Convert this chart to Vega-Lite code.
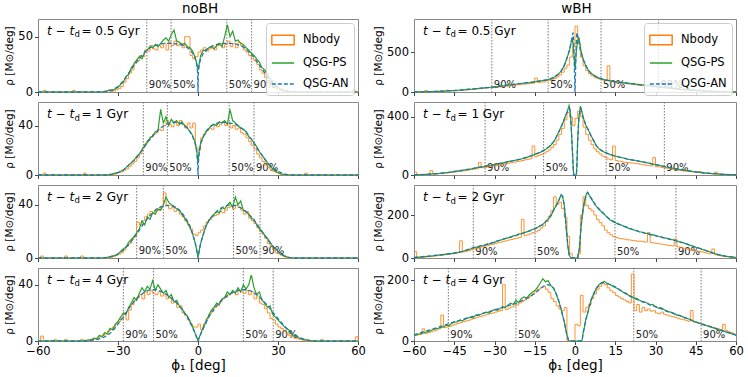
{
"$schema": "https://vega.github.io/schema/vega-lite/v6.json",
"padding": {"left": 4, "right": 2, "top": 1, "bottom": 1},
"datasets": {
"a1q": [{"x":-19.2,"lab":"90%"},{"x":-10.1,"lab":"50%"},{"x":10.8,"lab":"50%"},{"x":20.1,"lab":"90%"}],
"a2q": [{"x":-20.5,"lab":"90%"},{"x":-11.5,"lab":"50%"},{"x":11.7,"lab":"50%"},{"x":21,"lab":"90%"}],
"a3q": [{"x":-23,"lab":"90%"},{"x":-13,"lab":"50%"},{"x":13.3,"lab":"50%"},{"x":23.3,"lab":"90%"}],
"a4q": [{"x":-28,"lab":"90%"},{"x":-16.7,"lab":"50%"},{"x":17,"lab":"50%"},{"x":28.2,"lab":"90%"}],
"b1q": [{"x":-31,"lab":"90%"},{"x":-10,"lab":"50%"},{"x":9.7,"lab":"50%"},{"x":31.1,"lab":"90%"}],
"b2q": [{"x":-33.5,"lab":"90%"},{"x":-11.7,"lab":"50%"},{"x":11.6,"lab":"50%"},{"x":33.3,"lab":"90%"}],
"b3q": [{"x":-37.9,"lab":"90%"},{"x":-14.9,"lab":"50%"},{"x":14.9,"lab":"50%"},{"x":37.6,"lab":"90%"}],
"b4q": [{"x":-47.2,"lab":"90%"},{"x":-22,"lab":"50%"},{"x":21.9,"lab":"50%"},{"x":47,"lab":"90%"}],
"a1n": [{"x":-60,"y":0},{"x":-58,"y":1.5},{"x":-57,"y":0},{"x":-47,"y":1.5},{"x":-46,"y":0},{"x":-34,"y":1.5},{"x":-33,"y":0.5},{"x":-32,"y":1},{"x":-31,"y":2},{"x":-30,"y":3},{"x":-29,"y":5},{"x":-28,"y":9},{"x":-27,"y":12},{"x":-26,"y":17},{"x":-25,"y":20},{"x":-24,"y":27},{"x":-23,"y":28},{"x":-22,"y":33},{"x":-21,"y":32},{"x":-20,"y":38},{"x":-19,"y":37},{"x":-18,"y":42},{"x":-17,"y":39},{"x":-16,"y":38},{"x":-15,"y":42},{"x":-14,"y":40},{"x":-13,"y":44},{"x":-12,"y":38},{"x":-11,"y":45},{"x":-10,"y":42},{"x":-9,"y":46},{"x":-8,"y":42},{"x":-7,"y":44},{"x":-6,"y":40},{"x":-5,"y":50},{"x":-4,"y":50},{"x":-3,"y":33},{"x":-2,"y":30},{"x":-1,"y":32},{"x":0,"y":36},{"x":1,"y":38},{"x":2,"y":40},{"x":3,"y":37},{"x":4,"y":39},{"x":5,"y":41},{"x":6,"y":38},{"x":7,"y":42},{"x":8,"y":44},{"x":9,"y":40},{"x":10,"y":43},{"x":11,"y":46},{"x":12,"y":41},{"x":13,"y":44},{"x":14,"y":40},{"x":15,"y":45},{"x":16,"y":42},{"x":17,"y":38},{"x":18,"y":36},{"x":19,"y":33},{"x":20,"y":30},{"x":21,"y":28},{"x":22,"y":25},{"x":23,"y":20},{"x":24,"y":17},{"x":25,"y":13},{"x":26,"y":10},{"x":27,"y":7},{"x":28,"y":5},{"x":29,"y":3},{"x":30,"y":2},{"x":31,"y":1},{"x":32,"y":0.5},{"x":33,"y":0},{"x":58,"y":1.5},{"x":59,"y":0},{"x":60,"y":0}],
"a1p": [{"x":-60,"y":0},{"x":-36,"y":0},{"x":-35,"y":0.5},{"x":-34,"y":1},{"x":-33,"y":2},{"x":-32,"y":1.5},{"x":-31,"y":3},{"x":-30,"y":4},{"x":-29,"y":7},{"x":-28,"y":9},{"x":-27,"y":14},{"x":-26,"y":16},{"x":-25,"y":22},{"x":-24,"y":25},{"x":-23,"y":29},{"x":-22,"y":32},{"x":-21,"y":30},{"x":-20,"y":36},{"x":-19,"y":38},{"x":-18,"y":41},{"x":-17,"y":40},{"x":-16,"y":43},{"x":-15,"y":41},{"x":-14,"y":44},{"x":-13,"y":47},{"x":-12,"y":49},{"x":-11,"y":46},{"x":-10,"y":52},{"x":-9,"y":56},{"x":-8,"y":46},{"x":-7,"y":45},{"x":-6,"y":43},{"x":-5,"y":44},{"x":-4,"y":41},{"x":-3,"y":40},{"x":-2,"y":37},{"x":-1,"y":31},{"x":-0.5,"y":26},{"x":0,"y":20},{"x":0.5,"y":26},{"x":1,"y":33},{"x":2,"y":38},{"x":3,"y":37},{"x":4,"y":40},{"x":5,"y":41},{"x":6,"y":39},{"x":7,"y":42},{"x":8,"y":44},{"x":9,"y":41},{"x":10,"y":50},{"x":11,"y":61},{"x":12,"y":50},{"x":13,"y":55},{"x":14,"y":46},{"x":15,"y":47},{"x":16,"y":44},{"x":17,"y":43},{"x":18,"y":40},{"x":19,"y":38},{"x":20,"y":35},{"x":21,"y":33},{"x":22,"y":30},{"x":23,"y":27},{"x":24,"y":22},{"x":25,"y":20},{"x":26,"y":16},{"x":27,"y":12},{"x":28,"y":9},{"x":29,"y":6},{"x":30,"y":4},{"x":31,"y":2.5},{"x":32,"y":1.5},{"x":33,"y":1},{"x":34,"y":0.5},{"x":36,"y":0},{"x":60,"y":0}],
"a1a": [{"x":-60,"y":0},{"x":-36,"y":0},{"x":-34,"y":0.5},{"x":-32,"y":2},{"x":-30,"y":5},{"x":-28,"y":10},{"x":-26,"y":17},{"x":-24,"y":24},{"x":-22,"y":30},{"x":-20,"y":36},{"x":-18,"y":40},{"x":-16,"y":42},{"x":-14,"y":43.5},{"x":-12,"y":44},{"x":-10,"y":44},{"x":-8,"y":43.5},{"x":-6,"y":42.5},{"x":-4,"y":40},{"x":-3,"y":38},{"x":-2,"y":35},{"x":-1,"y":30},{"x":-0.5,"y":25},{"x":-0.15,"y":18},{"x":0,"y":0},{"x":0.15,"y":18},{"x":0.5,"y":25},{"x":1,"y":30},{"x":2,"y":35},{"x":3,"y":38},{"x":4,"y":40},{"x":6,"y":42.5},{"x":8,"y":43.5},{"x":10,"y":44},{"x":12,"y":44},{"x":14,"y":43.5},{"x":16,"y":42},{"x":18,"y":39},{"x":20,"y":34},{"x":22,"y":28},{"x":24,"y":21},{"x":26,"y":14},{"x":28,"y":8},{"x":30,"y":4},{"x":32,"y":1.5},{"x":34,"y":0.5},{"x":36,"y":0},{"x":60,"y":0}],
"a2n": [{"x":-60,"y":0},{"x":-58,"y":1.5},{"x":-57,"y":0},{"x":-43,"y":1.5},{"x":-42,"y":0},{"x":-31,"y":1.5},{"x":-30,"y":2},{"x":-29,"y":2.5},{"x":-28,"y":4},{"x":-27,"y":5},{"x":-26,"y":7},{"x":-25,"y":9},{"x":-24,"y":11},{"x":-23,"y":14},{"x":-22,"y":17},{"x":-21,"y":22},{"x":-20,"y":25},{"x":-19,"y":28},{"x":-18,"y":31},{"x":-17,"y":33},{"x":-16,"y":34},{"x":-15,"y":37},{"x":-14,"y":36},{"x":-13,"y":40},{"x":-12,"y":44},{"x":-11,"y":41},{"x":-10,"y":39},{"x":-9,"y":43},{"x":-8,"y":40},{"x":-7,"y":44},{"x":-6,"y":41},{"x":-5,"y":38},{"x":-4,"y":42},{"x":-3,"y":38},{"x":-2,"y":42},{"x":-1,"y":22},{"x":0,"y":20},{"x":1,"y":30},{"x":2,"y":33},{"x":3,"y":36},{"x":4,"y":38},{"x":5,"y":37},{"x":6,"y":40},{"x":7,"y":39},{"x":8,"y":41},{"x":9,"y":43},{"x":10,"y":40},{"x":11,"y":42},{"x":12,"y":38},{"x":13,"y":40},{"x":14,"y":37},{"x":15,"y":38},{"x":16,"y":34},{"x":17,"y":33},{"x":18,"y":30},{"x":19,"y":27},{"x":20,"y":24},{"x":21,"y":21},{"x":22,"y":17},{"x":23,"y":14},{"x":24,"y":11},{"x":25,"y":8},{"x":26,"y":6},{"x":27,"y":4},{"x":28,"y":3},{"x":29,"y":2},{"x":30,"y":1},{"x":31,"y":0.5},{"x":32,"y":0},{"x":40,"y":1.5},{"x":41,"y":0},{"x":60,"y":0}],
"a2p": [{"x":-60,"y":0},{"x":-34,"y":0},{"x":-33,"y":0.5},{"x":-32,"y":1},{"x":-31,"y":1.5},{"x":-30,"y":2},{"x":-29,"y":3},{"x":-28,"y":4},{"x":-27,"y":6},{"x":-26,"y":8},{"x":-25,"y":10},{"x":-24,"y":12},{"x":-23,"y":15},{"x":-22,"y":17},{"x":-21,"y":20},{"x":-20,"y":24},{"x":-19,"y":27},{"x":-18,"y":30},{"x":-17,"y":31},{"x":-16,"y":35},{"x":-15,"y":36},{"x":-14,"y":53},{"x":-13,"y":42},{"x":-12,"y":47},{"x":-11,"y":40},{"x":-10,"y":45},{"x":-9,"y":42},{"x":-8,"y":44},{"x":-7,"y":41},{"x":-6,"y":43},{"x":-5,"y":40},{"x":-4,"y":38},{"x":-3,"y":35},{"x":-2,"y":32},{"x":-1,"y":26},{"x":-0.5,"y":20},{"x":0,"y":10},{"x":0.5,"y":20},{"x":1,"y":26},{"x":2,"y":31},{"x":3,"y":35},{"x":4,"y":37},{"x":5,"y":40},{"x":6,"y":41},{"x":7,"y":40},{"x":8,"y":43},{"x":9,"y":42},{"x":10,"y":44},{"x":11,"y":41},{"x":12,"y":53},{"x":13,"y":44},{"x":14,"y":42},{"x":15,"y":40},{"x":16,"y":38},{"x":17,"y":37},{"x":18,"y":35},{"x":19,"y":31},{"x":20,"y":29},{"x":21,"y":26},{"x":22,"y":23},{"x":23,"y":19},{"x":24,"y":16},{"x":25,"y":13},{"x":26,"y":10},{"x":27,"y":7},{"x":28,"y":5},{"x":29,"y":3},{"x":30,"y":2},{"x":31,"y":1},{"x":32,"y":0.5},{"x":34,"y":0},{"x":60,"y":0}],
"a2a": [{"x":-60,"y":0},{"x":-34,"y":0},{"x":-32,"y":0.5},{"x":-30,"y":2},{"x":-28,"y":4},{"x":-26,"y":8},{"x":-24,"y":12},{"x":-22,"y":17},{"x":-20,"y":23},{"x":-18,"y":29},{"x":-16,"y":34},{"x":-14,"y":38},{"x":-12,"y":41},{"x":-10,"y":42.5},{"x":-8,"y":42.5},{"x":-6,"y":41.5},{"x":-4,"y":38},{"x":-3,"y":35},{"x":-2,"y":31},{"x":-1,"y":25},{"x":-0.5,"y":19},{"x":-0.2,"y":12},{"x":0,"y":0},{"x":0.2,"y":12},{"x":0.5,"y":19},{"x":1,"y":25},{"x":2,"y":31},{"x":3,"y":35},{"x":4,"y":38},{"x":6,"y":41},{"x":8,"y":42.5},{"x":10,"y":42.5},{"x":12,"y":42},{"x":14,"y":41},{"x":16,"y":38.5},{"x":18,"y":35},{"x":20,"y":29},{"x":22,"y":22},{"x":24,"y":16},{"x":26,"y":10},{"x":28,"y":6},{"x":30,"y":3},{"x":32,"y":1},{"x":34,"y":0},{"x":60,"y":0}],
"a3n": [{"x":-60,"y":0},{"x":-59,"y":1.5},{"x":-58,"y":0},{"x":-50,"y":1.5},{"x":-49,"y":0},{"x":-44,"y":1.5},{"x":-43,"y":0},{"x":-33,"y":0.5},{"x":-32,"y":1},{"x":-31,"y":2},{"x":-30,"y":3},{"x":-29,"y":4},{"x":-28,"y":6},{"x":-27,"y":9},{"x":-26,"y":11},{"x":-25,"y":14},{"x":-24,"y":17},{"x":-23,"y":27},{"x":-22,"y":25},{"x":-21,"y":28},{"x":-20,"y":31},{"x":-19,"y":33},{"x":-18,"y":35},{"x":-17,"y":34},{"x":-16,"y":37},{"x":-15,"y":36},{"x":-14,"y":39},{"x":-13,"y":49},{"x":-12,"y":40},{"x":-11,"y":37},{"x":-10,"y":38},{"x":-9,"y":35},{"x":-8,"y":36},{"x":-7,"y":33},{"x":-6,"y":31},{"x":-5,"y":28},{"x":-4,"y":25},{"x":-3,"y":22},{"x":-2,"y":18},{"x":-1,"y":17},{"x":0,"y":19},{"x":1,"y":21},{"x":2,"y":24},{"x":3,"y":27},{"x":4,"y":29},{"x":5,"y":31},{"x":6,"y":32},{"x":7,"y":33},{"x":8,"y":35},{"x":9,"y":34},{"x":10,"y":36},{"x":11,"y":38},{"x":12,"y":39},{"x":13,"y":37},{"x":14,"y":40},{"x":15,"y":38},{"x":16,"y":36},{"x":17,"y":33},{"x":18,"y":35},{"x":19,"y":30},{"x":20,"y":28},{"x":21,"y":26},{"x":22,"y":23},{"x":23,"y":20},{"x":24,"y":18},{"x":25,"y":15},{"x":26,"y":11},{"x":27,"y":9},{"x":28,"y":6},{"x":29,"y":4},{"x":30,"y":3},{"x":31,"y":2},{"x":32,"y":1},{"x":33,"y":0},{"x":60,"y":0}],
"a3p": [{"x":-60,"y":0},{"x":-36,"y":0},{"x":-34,"y":0.5},{"x":-33,"y":1},{"x":-32,"y":1.5},{"x":-31,"y":2},{"x":-30,"y":3},{"x":-29,"y":5},{"x":-28,"y":7},{"x":-27,"y":8},{"x":-26,"y":12},{"x":-25,"y":14},{"x":-24,"y":16},{"x":-23,"y":19},{"x":-22,"y":22},{"x":-21,"y":28},{"x":-20,"y":25},{"x":-19,"y":31},{"x":-18,"y":29},{"x":-17,"y":34},{"x":-16,"y":33},{"x":-15,"y":37},{"x":-14,"y":36},{"x":-13,"y":40},{"x":-12,"y":46},{"x":-11,"y":42},{"x":-10,"y":40},{"x":-9,"y":39},{"x":-8,"y":37},{"x":-7,"y":36},{"x":-6,"y":33},{"x":-5,"y":30},{"x":-4,"y":27},{"x":-3,"y":23},{"x":-2,"y":18},{"x":-1,"y":11},{"x":0,"y":1},{"x":1,"y":11},{"x":2,"y":18},{"x":3,"y":24},{"x":4,"y":28},{"x":5,"y":31},{"x":6,"y":33},{"x":7,"y":35},{"x":8,"y":34},{"x":9,"y":38},{"x":10,"y":37},{"x":11,"y":40},{"x":12,"y":42},{"x":13,"y":38},{"x":14,"y":46},{"x":15,"y":40},{"x":16,"y":43},{"x":17,"y":36},{"x":18,"y":35},{"x":19,"y":33},{"x":20,"y":30},{"x":21,"y":29},{"x":22,"y":25},{"x":23,"y":22},{"x":24,"y":20},{"x":25,"y":17},{"x":26,"y":15},{"x":27,"y":12},{"x":28,"y":9},{"x":29,"y":7},{"x":30,"y":5},{"x":31,"y":3},{"x":32,"y":2},{"x":33,"y":1},{"x":34,"y":0.5},{"x":36,"y":0},{"x":60,"y":0}],
"a3a": [{"x":-60,"y":0},{"x":-36,"y":0},{"x":-34,"y":0.5},{"x":-32,"y":1.5},{"x":-30,"y":3},{"x":-28,"y":6},{"x":-26,"y":10},{"x":-24,"y":15},{"x":-22,"y":21},{"x":-20,"y":27},{"x":-18,"y":32},{"x":-16,"y":36},{"x":-14,"y":38.5},{"x":-12,"y":39.5},{"x":-10,"y":39.5},{"x":-8,"y":38},{"x":-6,"y":34},{"x":-4,"y":28},{"x":-3,"y":24},{"x":-2,"y":18},{"x":-1,"y":11},{"x":-0.5,"y":6},{"x":0,"y":0},{"x":0.5,"y":6},{"x":1,"y":11},{"x":2,"y":18},{"x":3,"y":24},{"x":4,"y":28},{"x":6,"y":33},{"x":8,"y":37},{"x":10,"y":39},{"x":12,"y":40},{"x":14,"y":39.5},{"x":16,"y":38},{"x":18,"y":35},{"x":20,"y":31},{"x":22,"y":26},{"x":24,"y":20},{"x":26,"y":14},{"x":28,"y":9},{"x":30,"y":5},{"x":32,"y":2},{"x":34,"y":0.5},{"x":36,"y":0},{"x":60,"y":0}],
"a4n": [{"x":-60,"y":0},{"x":-59,"y":3.5},{"x":-58,"y":0},{"x":-54,"y":1},{"x":-53,"y":0},{"x":-50,"y":1},{"x":-49,"y":0},{"x":-44,"y":1},{"x":-43,"y":0},{"x":-41,"y":0.5},{"x":-40,"y":1},{"x":-39,"y":1.5},{"x":-38,"y":2},{"x":-37,"y":3},{"x":-36,"y":4},{"x":-35,"y":5},{"x":-34,"y":7},{"x":-33,"y":8},{"x":-32,"y":10},{"x":-31,"y":12},{"x":-30,"y":14},{"x":-29,"y":16},{"x":-28,"y":20},{"x":-27,"y":15},{"x":-26,"y":22},{"x":-25,"y":26},{"x":-24,"y":29},{"x":-23,"y":31},{"x":-22,"y":33},{"x":-21,"y":30},{"x":-20,"y":35},{"x":-19,"y":33},{"x":-18,"y":36},{"x":-17,"y":34},{"x":-16,"y":33},{"x":-15,"y":35},{"x":-14,"y":32},{"x":-13,"y":33},{"x":-12,"y":30},{"x":-11,"y":31},{"x":-10,"y":27},{"x":-9,"y":28},{"x":-8,"y":24},{"x":-7,"y":25},{"x":-6,"y":20},{"x":-5,"y":18},{"x":-4,"y":15},{"x":-3,"y":12},{"x":-2,"y":10},{"x":-1,"y":10},{"x":0,"y":12},{"x":1,"y":8},{"x":2,"y":12},{"x":3,"y":16},{"x":4,"y":19},{"x":5,"y":21},{"x":6,"y":24},{"x":7,"y":25},{"x":8,"y":28},{"x":9,"y":30},{"x":10,"y":31},{"x":11,"y":33},{"x":12,"y":34},{"x":13,"y":35},{"x":14,"y":33},{"x":15,"y":36},{"x":16,"y":35},{"x":17,"y":34},{"x":18,"y":36},{"x":19,"y":33},{"x":20,"y":35},{"x":21,"y":30},{"x":22,"y":32},{"x":23,"y":27},{"x":24,"y":26},{"x":25,"y":23},{"x":26,"y":20},{"x":27,"y":16},{"x":28,"y":15},{"x":29,"y":12},{"x":30,"y":10},{"x":31,"y":9},{"x":32,"y":7},{"x":33,"y":5},{"x":34,"y":4},{"x":35,"y":3},{"x":36,"y":2},{"x":37,"y":1.5},{"x":38,"y":1},{"x":39,"y":0.5},{"x":40,"y":0},{"x":46,"y":1},{"x":47,"y":0},{"x":59,"y":3},{"x":60,"y":0}],
"a4p": [{"x":-60,"y":0},{"x":-44,"y":0},{"x":-42,"y":0.5},{"x":-40,"y":1},{"x":-39,"y":2},{"x":-38,"y":1.5},{"x":-37,"y":4},{"x":-36,"y":3},{"x":-35,"y":6},{"x":-34,"y":5},{"x":-33,"y":9},{"x":-32,"y":8},{"x":-31,"y":12},{"x":-30,"y":14},{"x":-29,"y":17},{"x":-28,"y":20},{"x":-27,"y":19},{"x":-26,"y":24},{"x":-25,"y":27},{"x":-24,"y":31},{"x":-23,"y":29},{"x":-22,"y":34},{"x":-21,"y":38},{"x":-20,"y":35},{"x":-19,"y":39},{"x":-18,"y":37},{"x":-17,"y":43},{"x":-16,"y":36},{"x":-15,"y":40},{"x":-14,"y":37},{"x":-13,"y":34},{"x":-12,"y":36},{"x":-11,"y":31},{"x":-10,"y":33},{"x":-9,"y":28},{"x":-8,"y":29},{"x":-7,"y":25},{"x":-6,"y":23},{"x":-5,"y":20},{"x":-4,"y":18},{"x":-3,"y":14},{"x":-2,"y":10},{"x":-1,"y":5},{"x":0,"y":0.5},{"x":1,"y":5},{"x":2,"y":10},{"x":3,"y":14},{"x":4,"y":18},{"x":5,"y":22},{"x":6,"y":24},{"x":7,"y":27},{"x":8,"y":26},{"x":9,"y":30},{"x":10,"y":31},{"x":11,"y":35},{"x":12,"y":33},{"x":13,"y":36},{"x":14,"y":34},{"x":15,"y":38},{"x":16,"y":35},{"x":17,"y":40},{"x":18,"y":37},{"x":19,"y":40},{"x":20,"y":47},{"x":21,"y":38},{"x":22,"y":33},{"x":23,"y":35},{"x":24,"y":29},{"x":25,"y":27},{"x":26,"y":24},{"x":27,"y":25},{"x":28,"y":19},{"x":29,"y":17},{"x":30,"y":15},{"x":31,"y":13},{"x":32,"y":11},{"x":33,"y":9},{"x":34,"y":8},{"x":35,"y":5},{"x":36,"y":4},{"x":37,"y":3},{"x":38,"y":2},{"x":39,"y":1.5},{"x":40,"y":1},{"x":42,"y":0.3},{"x":44,"y":0},{"x":60,"y":0}],
"a4a": [{"x":-60,"y":0},{"x":-42,"y":0},{"x":-40,"y":0.5},{"x":-38,"y":1},{"x":-36,"y":2},{"x":-34,"y":4},{"x":-32,"y":7},{"x":-30,"y":12},{"x":-28,"y":17},{"x":-26,"y":23},{"x":-24,"y":28},{"x":-22,"y":32},{"x":-20,"y":35},{"x":-18,"y":36.5},{"x":-16,"y":36.5},{"x":-14,"y":35.5},{"x":-12,"y":33.5},{"x":-10,"y":30.5},{"x":-8,"y":27},{"x":-6,"y":22.5},{"x":-4,"y":17},{"x":-3,"y":13.5},{"x":-2,"y":9.5},{"x":-1,"y":5},{"x":0,"y":0},{"x":1,"y":5},{"x":2,"y":9},{"x":3,"y":13},{"x":4,"y":17},{"x":6,"y":23},{"x":8,"y":27.5},{"x":10,"y":31},{"x":12,"y":33.5},{"x":14,"y":35.5},{"x":16,"y":36.5},{"x":18,"y":36.5},{"x":20,"y":35.5},{"x":22,"y":33},{"x":24,"y":29.5},{"x":26,"y":25.5},{"x":28,"y":20.5},{"x":30,"y":16},{"x":32,"y":11.5},{"x":34,"y":7.5},{"x":36,"y":4.5},{"x":38,"y":2.5},{"x":40,"y":1},{"x":42,"y":0.3},{"x":44,"y":0},{"x":60,"y":0}],
"b1n": [{"x":-60,"y":1},{"x":-56,"y":20},{"x":-55,"y":3},{"x":-54,"y":4},{"x":-53,"y":5},{"x":-52,"y":6},{"x":-51,"y":8},{"x":-50,"y":9},{"x":-49,"y":10},{"x":-48,"y":22},{"x":-47,"y":13},{"x":-46,"y":15},{"x":-45,"y":16},{"x":-44,"y":18},{"x":-43,"y":20},{"x":-42,"y":23},{"x":-41,"y":25},{"x":-40,"y":28},{"x":-39,"y":32},{"x":-38,"y":34},{"x":-37,"y":38},{"x":-36,"y":41},{"x":-35,"y":45},{"x":-34,"y":50},{"x":-33,"y":52},{"x":-32,"y":54},{"x":-31,"y":58},{"x":-30,"y":60},{"x":-29,"y":64},{"x":-28,"y":66},{"x":-27,"y":70},{"x":-26,"y":74},{"x":-25,"y":78},{"x":-24,"y":82},{"x":-23,"y":86},{"x":-22,"y":90},{"x":-21,"y":92},{"x":-20,"y":98},{"x":-19,"y":101},{"x":-18,"y":104},{"x":-17,"y":108},{"x":-16,"y":110},{"x":-15,"y":175},{"x":-14,"y":118},{"x":-13,"y":125},{"x":-12,"y":128},{"x":-11,"y":140},{"x":-10,"y":148},{"x":-9,"y":160},{"x":-8,"y":170},{"x":-7,"y":190},{"x":-6,"y":215},{"x":-5,"y":250},{"x":-4,"y":300},{"x":-3,"y":340},{"x":-2,"y":440},{"x":-1,"y":570},{"x":0,"y":830},{"x":1,"y":610},{"x":2,"y":440},{"x":3,"y":330},{"x":4,"y":270},{"x":5,"y":230},{"x":6,"y":205},{"x":7,"y":185},{"x":8,"y":170},{"x":9,"y":160},{"x":10,"y":150},{"x":11,"y":140},{"x":12,"y":330},{"x":13,"y":140},{"x":14,"y":128},{"x":15,"y":122},{"x":16,"y":118},{"x":17,"y":112},{"x":18,"y":108},{"x":19,"y":104},{"x":20,"y":100},{"x":21,"y":96},{"x":22,"y":92},{"x":23,"y":86},{"x":24,"y":82},{"x":25,"y":80},{"x":26,"y":76},{"x":27,"y":72},{"x":28,"y":68},{"x":29,"y":64},{"x":30,"y":62},{"x":31,"y":58},{"x":32,"y":54},{"x":33,"y":50},{"x":34,"y":46},{"x":35,"y":42},{"x":36,"y":40},{"x":37,"y":36},{"x":38,"y":33},{"x":39,"y":30},{"x":40,"y":28},{"x":41,"y":25},{"x":42,"y":22},{"x":43,"y":20},{"x":44,"y":30},{"x":45,"y":16},{"x":46,"y":28},{"x":47,"y":12},{"x":48,"y":10},{"x":49,"y":9},{"x":50,"y":8},{"x":51,"y":6},{"x":52,"y":5},{"x":53,"y":4},{"x":54,"y":3},{"x":56,"y":2},{"x":58,"y":1},{"x":60,"y":1}],
"b1p": [{"x":-60,"y":1},{"x":-58,"y":2},{"x":-56,"y":3},{"x":-55,"y":4},{"x":-54,"y":5},{"x":-53,"y":6},{"x":-52,"y":7},{"x":-51,"y":9},{"x":-50,"y":10},{"x":-49,"y":12},{"x":-48,"y":13},{"x":-47,"y":15},{"x":-46,"y":17},{"x":-45,"y":19},{"x":-44,"y":22},{"x":-43,"y":24},{"x":-42,"y":27},{"x":-41,"y":29},{"x":-40,"y":33},{"x":-39,"y":35},{"x":-38,"y":38},{"x":-37,"y":42},{"x":-36,"y":44},{"x":-35,"y":48},{"x":-34,"y":51},{"x":-33,"y":55},{"x":-32,"y":57},{"x":-31,"y":62},{"x":-30,"y":65},{"x":-29,"y":68},{"x":-28,"y":73},{"x":-27,"y":76},{"x":-26,"y":82},{"x":-25,"y":86},{"x":-24,"y":92},{"x":-23,"y":95},{"x":-22,"y":98},{"x":-21,"y":104},{"x":-20,"y":107},{"x":-19,"y":112},{"x":-18,"y":115},{"x":-17,"y":118},{"x":-16,"y":124},{"x":-15,"y":128},{"x":-14,"y":135},{"x":-13,"y":138},{"x":-12,"y":145},{"x":-11,"y":150},{"x":-10,"y":155},{"x":-9,"y":168},{"x":-8,"y":182},{"x":-7,"y":200},{"x":-6,"y":232},{"x":-5,"y":270},{"x":-4,"y":332},{"x":-3,"y":425},{"x":-2,"y":530},{"x":-1.5,"y":620},{"x":-1,"y":685},{"x":-0.5,"y":520},{"x":0,"y":280},{"x":0.5,"y":520},{"x":1,"y":645},{"x":1.5,"y":690},{"x":2,"y":560},{"x":3,"y":415},{"x":4,"y":335},{"x":5,"y":275},{"x":6,"y":238},{"x":7,"y":210},{"x":8,"y":192},{"x":9,"y":175},{"x":10,"y":165},{"x":11,"y":155},{"x":12,"y":148},{"x":13,"y":140},{"x":14,"y":135},{"x":15,"y":130},{"x":16,"y":126},{"x":17,"y":122},{"x":18,"y":118},{"x":19,"y":114},{"x":20,"y":110},{"x":21,"y":106},{"x":22,"y":102},{"x":23,"y":98},{"x":24,"y":94},{"x":25,"y":91},{"x":26,"y":87},{"x":27,"y":84},{"x":28,"y":80},{"x":29,"y":76},{"x":30,"y":72},{"x":31,"y":68},{"x":32,"y":64},{"x":33,"y":60},{"x":34,"y":56},{"x":35,"y":53},{"x":36,"y":49},{"x":37,"y":45},{"x":38,"y":42},{"x":39,"y":38},{"x":40,"y":35},{"x":41,"y":32},{"x":42,"y":29},{"x":43,"y":26},{"x":44,"y":23},{"x":45,"y":20},{"x":46,"y":18},{"x":47,"y":16},{"x":48,"y":14},{"x":49,"y":12},{"x":50,"y":10},{"x":51,"y":9},{"x":52,"y":7},{"x":53,"y":6},{"x":54,"y":5},{"x":55,"y":4},{"x":56,"y":3},{"x":58,"y":2},{"x":60,"y":1}],
"b1a": [{"x":-60,"y":1},{"x":-55,"y":4},{"x":-50,"y":10},{"x":-45,"y":19},{"x":-40,"y":32},{"x":-35,"y":48},{"x":-30,"y":66},{"x":-25,"y":88},{"x":-20,"y":108},{"x":-16,"y":125},{"x":-12,"y":146},{"x":-10,"y":155},{"x":-8,"y":182},{"x":-6,"y":232},{"x":-5,"y":272},{"x":-4,"y":335},{"x":-3,"y":425},{"x":-2,"y":535},{"x":-1.5,"y":620},{"x":-1,"y":710},{"x":-0.7,"y":750},{"x":-0.45,"y":600},{"x":-0.2,"y":250},{"x":0,"y":0},{"x":0.2,"y":250},{"x":0.45,"y":600},{"x":0.7,"y":750},{"x":1,"y":710},{"x":1.5,"y":620},{"x":2,"y":525},{"x":3,"y":415},{"x":4,"y":335},{"x":5,"y":272},{"x":6,"y":236},{"x":8,"y":190},{"x":10,"y":163},{"x":12,"y":148},{"x":15,"y":130},{"x":18,"y":118},{"x":21,"y":105},{"x":25,"y":90},{"x":30,"y":70},{"x":35,"y":52},{"x":40,"y":34},{"x":45,"y":20},{"x":50,"y":10},{"x":55,"y":4},{"x":60,"y":1}],
"b2n": [{"x":-60,"y":20},{"x":-59,"y":2},{"x":-58,"y":3},{"x":-56,"y":4},{"x":-55,"y":5},{"x":-54,"y":30},{"x":-53,"y":7},{"x":-52,"y":8},{"x":-51,"y":10},{"x":-50,"y":11},{"x":-49,"y":13},{"x":-48,"y":15},{"x":-47,"y":16},{"x":-46,"y":18},{"x":-45,"y":21},{"x":-44,"y":24},{"x":-43,"y":26},{"x":-42,"y":28},{"x":-41,"y":32},{"x":-40,"y":34},{"x":-39,"y":37},{"x":-38,"y":40},{"x":-37,"y":44},{"x":-36,"y":85},{"x":-35,"y":50},{"x":-34,"y":52},{"x":-33,"y":56},{"x":-32,"y":58},{"x":-31,"y":62},{"x":-30,"y":64},{"x":-29,"y":68},{"x":-28,"y":70},{"x":-27,"y":74},{"x":-26,"y":78},{"x":-25,"y":82},{"x":-24,"y":85},{"x":-23,"y":88},{"x":-22,"y":92},{"x":-21,"y":95},{"x":-20,"y":100},{"x":-19,"y":104},{"x":-18,"y":108},{"x":-17,"y":112},{"x":-16,"y":200},{"x":-15,"y":126},{"x":-14,"y":135},{"x":-13,"y":142},{"x":-12,"y":150},{"x":-11,"y":160},{"x":-10,"y":172},{"x":-9,"y":190},{"x":-8,"y":210},{"x":-7,"y":240},{"x":-6,"y":280},{"x":-5,"y":320},{"x":-4,"y":380},{"x":-3,"y":430},{"x":-2,"y":400},{"x":-1,"y":340},{"x":0,"y":390},{"x":1,"y":440},{"x":2,"y":400},{"x":3,"y":330},{"x":4,"y":280},{"x":5,"y":240},{"x":6,"y":210},{"x":7,"y":180},{"x":8,"y":160},{"x":9,"y":145},{"x":10,"y":130},{"x":11,"y":120},{"x":12,"y":110},{"x":13,"y":105},{"x":14,"y":200},{"x":15,"y":100},{"x":16,"y":95},{"x":17,"y":92},{"x":18,"y":88},{"x":19,"y":86},{"x":20,"y":84},{"x":21,"y":82},{"x":22,"y":80},{"x":23,"y":78},{"x":24,"y":74},{"x":25,"y":72},{"x":26,"y":68},{"x":27,"y":65},{"x":28,"y":62},{"x":29,"y":120},{"x":30,"y":58},{"x":31,"y":56},{"x":32,"y":52},{"x":33,"y":50},{"x":34,"y":46},{"x":35,"y":44},{"x":36,"y":40},{"x":37,"y":37},{"x":38,"y":34},{"x":39,"y":31},{"x":40,"y":28},{"x":41,"y":26},{"x":42,"y":24},{"x":43,"y":22},{"x":44,"y":20},{"x":45,"y":18},{"x":46,"y":25},{"x":47,"y":14},{"x":48,"y":12},{"x":49,"y":10},{"x":50,"y":9},{"x":51,"y":8},{"x":52,"y":20},{"x":53,"y":6},{"x":54,"y":5},{"x":55,"y":4},{"x":56,"y":3},{"x":58,"y":2},{"x":59,"y":1},{"x":60,"y":1}],
"b2p": [{"x":-60,"y":1},{"x":-59,"y":2},{"x":-58,"y":3},{"x":-56,"y":4},{"x":-55,"y":5},{"x":-54,"y":6},{"x":-53,"y":8},{"x":-52,"y":9},{"x":-51,"y":10},{"x":-50,"y":12},{"x":-49,"y":14},{"x":-48,"y":16},{"x":-47,"y":18},{"x":-46,"y":21},{"x":-45,"y":24},{"x":-44,"y":27},{"x":-43,"y":30},{"x":-42,"y":32},{"x":-41,"y":36},{"x":-40,"y":39},{"x":-39,"y":41},{"x":-38,"y":45},{"x":-37,"y":49},{"x":-36,"y":52},{"x":-35,"y":56},{"x":-34,"y":58},{"x":-33,"y":63},{"x":-32,"y":66},{"x":-31,"y":69},{"x":-30,"y":73},{"x":-29,"y":76},{"x":-28,"y":80},{"x":-27,"y":83},{"x":-26,"y":87},{"x":-25,"y":92},{"x":-24,"y":95},{"x":-23,"y":98},{"x":-22,"y":103},{"x":-21,"y":106},{"x":-20,"y":110},{"x":-19,"y":116},{"x":-18,"y":120},{"x":-17,"y":128},{"x":-16,"y":134},{"x":-15,"y":142},{"x":-14,"y":148},{"x":-13,"y":156},{"x":-12,"y":166},{"x":-11,"y":176},{"x":-10,"y":190},{"x":-9,"y":205},{"x":-8,"y":228},{"x":-7,"y":260},{"x":-6,"y":300},{"x":-5,"y":340},{"x":-4,"y":385},{"x":-3,"y":432},{"x":-2.2,"y":480},{"x":-1.8,"y":445},{"x":-1.4,"y":330},{"x":-1,"y":180},{"x":-0.7,"y":60},{"x":-0.5,"y":0},{"x":0.5,"y":0},{"x":0.7,"y":60},{"x":1,"y":240},{"x":1.4,"y":385},{"x":2,"y":475},{"x":2.5,"y":440},{"x":3,"y":400},{"x":4,"y":345},{"x":5,"y":310},{"x":6,"y":270},{"x":7,"y":235},{"x":8,"y":200},{"x":9,"y":180},{"x":10,"y":166},{"x":11,"y":157},{"x":12,"y":148},{"x":13,"y":142},{"x":14,"y":136},{"x":15,"y":130},{"x":16,"y":126},{"x":17,"y":121},{"x":18,"y":117},{"x":19,"y":112},{"x":20,"y":108},{"x":21,"y":105},{"x":22,"y":102},{"x":23,"y":98},{"x":24,"y":94},{"x":25,"y":91},{"x":26,"y":88},{"x":27,"y":84},{"x":28,"y":80},{"x":29,"y":75},{"x":30,"y":72},{"x":31,"y":68},{"x":32,"y":64},{"x":33,"y":60},{"x":34,"y":55},{"x":35,"y":52},{"x":36,"y":48},{"x":37,"y":45},{"x":38,"y":41},{"x":39,"y":38},{"x":40,"y":35},{"x":41,"y":33},{"x":42,"y":30},{"x":43,"y":27},{"x":44,"y":24},{"x":45,"y":22},{"x":46,"y":20},{"x":47,"y":17},{"x":48,"y":15},{"x":49,"y":13},{"x":50,"y":12},{"x":51,"y":10},{"x":52,"y":9},{"x":53,"y":8},{"x":54,"y":6},{"x":55,"y":5},{"x":56,"y":4},{"x":58,"y":3},{"x":59,"y":2},{"x":60,"y":1}],
"b2a": [{"x":-60,"y":1},{"x":-55,"y":5},{"x":-50,"y":12},{"x":-45,"y":24},{"x":-40,"y":38},{"x":-35,"y":55},{"x":-30,"y":72},{"x":-25,"y":91},{"x":-20,"y":110},{"x":-16,"y":134},{"x":-12,"y":166},{"x":-10,"y":190},{"x":-8,"y":228},{"x":-7,"y":260},{"x":-6,"y":298},{"x":-5,"y":338},{"x":-4,"y":384},{"x":-3,"y":430},{"x":-2.2,"y":458},{"x":-1.8,"y":440},{"x":-1.4,"y":330},{"x":-1,"y":180},{"x":-0.7,"y":60},{"x":-0.5,"y":0},{"x":0.5,"y":0},{"x":0.7,"y":60},{"x":1,"y":234},{"x":1.4,"y":380},{"x":1.9,"y":446},{"x":2.2,"y":458},{"x":3,"y":400},{"x":4,"y":345},{"x":5,"y":308},{"x":6,"y":268},{"x":7,"y":235},{"x":8,"y":200},{"x":9,"y":180},{"x":11,"y":157},{"x":13,"y":142},{"x":16,"y":126},{"x":20,"y":108},{"x":25,"y":91},{"x":30,"y":72},{"x":35,"y":52},{"x":40,"y":35},{"x":45,"y":22},{"x":50,"y":12},{"x":55,"y":5},{"x":60,"y":1}],
"b3n": [{"x":-60,"y":30},{"x":-59,"y":2},{"x":-58,"y":3},{"x":-57,"y":4},{"x":-56,"y":5},{"x":-55,"y":6},{"x":-54,"y":8},{"x":-53,"y":9},{"x":-52,"y":10},{"x":-51,"y":12},{"x":-50,"y":13},{"x":-49,"y":15},{"x":-48,"y":17},{"x":-47,"y":18},{"x":-46,"y":20},{"x":-45,"y":22},{"x":-44,"y":24},{"x":-43,"y":80},{"x":-42,"y":28},{"x":-41,"y":31},{"x":-40,"y":34},{"x":-39,"y":38},{"x":-38,"y":42},{"x":-37,"y":45},{"x":-36,"y":48},{"x":-35,"y":52},{"x":-34,"y":55},{"x":-33,"y":58},{"x":-32,"y":62},{"x":-31,"y":64},{"x":-30,"y":68},{"x":-29,"y":72},{"x":-28,"y":74},{"x":-27,"y":78},{"x":-26,"y":80},{"x":-25,"y":84},{"x":-24,"y":86},{"x":-23,"y":90},{"x":-22,"y":92},{"x":-21,"y":96},{"x":-20,"y":180},{"x":-19,"y":104},{"x":-18,"y":108},{"x":-17,"y":112},{"x":-16,"y":118},{"x":-15,"y":122},{"x":-14,"y":128},{"x":-13,"y":140},{"x":-12,"y":150},{"x":-11,"y":170},{"x":-10,"y":195},{"x":-9,"y":220},{"x":-8,"y":285},{"x":-7,"y":250},{"x":-6,"y":260},{"x":-5,"y":230},{"x":-4,"y":190},{"x":-3,"y":100},{"x":-2,"y":20},{"x":-1,"y":0},{"x":1,"y":20},{"x":2,"y":200},{"x":3,"y":285},{"x":4,"y":245},{"x":5,"y":230},{"x":6,"y":220},{"x":7,"y":200},{"x":8,"y":180},{"x":9,"y":165},{"x":10,"y":150},{"x":11,"y":130},{"x":12,"y":118},{"x":13,"y":108},{"x":14,"y":100},{"x":15,"y":95},{"x":16,"y":92},{"x":17,"y":90},{"x":18,"y":88},{"x":19,"y":85},{"x":20,"y":84},{"x":21,"y":82},{"x":22,"y":80},{"x":23,"y":78},{"x":24,"y":78},{"x":25,"y":76},{"x":26,"y":74},{"x":27,"y":118},{"x":28,"y":72},{"x":29,"y":70},{"x":30,"y":68},{"x":31,"y":66},{"x":32,"y":64},{"x":33,"y":62},{"x":34,"y":60},{"x":35,"y":58},{"x":36,"y":56},{"x":37,"y":88},{"x":38,"y":52},{"x":39,"y":50},{"x":40,"y":46},{"x":41,"y":44},{"x":42,"y":40},{"x":43,"y":38},{"x":44,"y":35},{"x":45,"y":33},{"x":46,"y":30},{"x":47,"y":28},{"x":48,"y":25},{"x":49,"y":22},{"x":50,"y":20},{"x":51,"y":42},{"x":52,"y":15},{"x":53,"y":12},{"x":54,"y":10},{"x":55,"y":8},{"x":56,"y":6},{"x":57,"y":5},{"x":58,"y":4},{"x":59,"y":3},{"x":60,"y":2}],
"b3p": [{"x":-60,"y":2},{"x":-59,"y":3},{"x":-58,"y":4},{"x":-57,"y":5},{"x":-56,"y":6},{"x":-55,"y":8},{"x":-54,"y":9},{"x":-53,"y":10},{"x":-52,"y":12},{"x":-51,"y":13},{"x":-50,"y":15},{"x":-49,"y":16},{"x":-48,"y":18},{"x":-47,"y":20},{"x":-46,"y":21},{"x":-45,"y":23},{"x":-44,"y":25},{"x":-43,"y":28},{"x":-42,"y":31},{"x":-41,"y":35},{"x":-40,"y":38},{"x":-39,"y":42},{"x":-38,"y":47},{"x":-37,"y":50},{"x":-36,"y":53},{"x":-35,"y":57},{"x":-34,"y":58},{"x":-33,"y":64},{"x":-32,"y":66},{"x":-31,"y":70},{"x":-30,"y":73},{"x":-29,"y":80},{"x":-28,"y":82},{"x":-27,"y":86},{"x":-26,"y":90},{"x":-25,"y":94},{"x":-24,"y":96},{"x":-23,"y":103},{"x":-22,"y":104},{"x":-21,"y":112},{"x":-20,"y":112},{"x":-19,"y":118},{"x":-18,"y":122},{"x":-17,"y":125},{"x":-16,"y":133},{"x":-15,"y":136},{"x":-14,"y":142},{"x":-13,"y":150},{"x":-12,"y":157},{"x":-11,"y":168},{"x":-10,"y":180},{"x":-9,"y":195},{"x":-8,"y":222},{"x":-7,"y":245},{"x":-6,"y":270},{"x":-5.2,"y":293},{"x":-4.6,"y":285},{"x":-4,"y":245},{"x":-3.4,"y":160},{"x":-2.7,"y":60},{"x":-2.2,"y":15},{"x":-1.5,"y":0},{"x":1,"y":0},{"x":1.6,"y":40},{"x":2.2,"y":135},{"x":2.8,"y":210},{"x":3.5,"y":262},{"x":4.2,"y":298},{"x":4.7,"y":306},{"x":5.5,"y":288},{"x":6.6,"y":266},{"x":8,"y":240},{"x":9,"y":225},{"x":10,"y":214},{"x":11,"y":202},{"x":12,"y":190},{"x":13,"y":178},{"x":14,"y":170},{"x":15,"y":165},{"x":16,"y":158},{"x":17,"y":155},{"x":18,"y":149},{"x":19,"y":146},{"x":20,"y":138},{"x":21,"y":136},{"x":22,"y":130},{"x":23,"y":128},{"x":24,"y":122},{"x":25,"y":121},{"x":26,"y":116},{"x":27,"y":115},{"x":28,"y":108},{"x":29,"y":109},{"x":30,"y":104},{"x":31,"y":100},{"x":32,"y":98},{"x":33,"y":94},{"x":34,"y":93},{"x":35,"y":88},{"x":36,"y":86},{"x":37,"y":83},{"x":38,"y":79},{"x":39,"y":75},{"x":40,"y":72},{"x":41,"y":68},{"x":42,"y":64},{"x":43,"y":59},{"x":44,"y":55},{"x":45,"y":50},{"x":46,"y":47},{"x":47,"y":42},{"x":48,"y":38},{"x":49,"y":34},{"x":50,"y":30},{"x":51,"y":25},{"x":52,"y":21},{"x":53,"y":17},{"x":54,"y":14},{"x":55,"y":11},{"x":56,"y":9},{"x":57,"y":7},{"x":58,"y":5},{"x":59,"y":4},{"x":60,"y":2}],
"b3a": [{"x":-60,"y":3},{"x":-55,"y":8},{"x":-50,"y":15},{"x":-45.5,"y":21},{"x":-42,"y":30},{"x":-37.8,"y":48},{"x":-34,"y":60},{"x":-30,"y":74},{"x":-26.9,"y":88},{"x":-22,"y":105},{"x":-18,"y":121},{"x":-14.9,"y":136},{"x":-12,"y":156},{"x":-9.5,"y":189},{"x":-8,"y":222},{"x":-7,"y":245},{"x":-6,"y":270},{"x":-5.2,"y":295},{"x":-4.6,"y":288},{"x":-4,"y":245},{"x":-3.4,"y":160},{"x":-2.7,"y":60},{"x":-2.2,"y":15},{"x":-1.5,"y":0},{"x":1,"y":0},{"x":1.6,"y":40},{"x":2.2,"y":135},{"x":2.8,"y":210},{"x":3.5,"y":260},{"x":4.2,"y":295},{"x":4.7,"y":305},{"x":5.5,"y":290},{"x":6.6,"y":267},{"x":8,"y":240},{"x":10.3,"y":212},{"x":12.5,"y":185},{"x":14.9,"y":166},{"x":18,"y":148},{"x":22.7,"y":127},{"x":26,"y":116},{"x":30,"y":104},{"x":34,"y":92},{"x":37.5,"y":81},{"x":41,"y":68},{"x":45,"y":50},{"x":48,"y":38},{"x":52.4,"y":19},{"x":56,"y":9},{"x":60,"y":2}],
"b4n": [{"x":-60,"y":18},{"x":-59,"y":20},{"x":-58,"y":22},{"x":-57,"y":40},{"x":-56,"y":25},{"x":-55,"y":28},{"x":-54,"y":30},{"x":-53,"y":33},{"x":-52,"y":36},{"x":-51,"y":40},{"x":-50,"y":85},{"x":-49,"y":44},{"x":-48,"y":46},{"x":-47,"y":48},{"x":-46,"y":52},{"x":-45,"y":55},{"x":-44,"y":58},{"x":-43,"y":60},{"x":-42,"y":63},{"x":-41,"y":66},{"x":-40,"y":68},{"x":-39,"y":72},{"x":-38,"y":74},{"x":-37,"y":78},{"x":-36,"y":80},{"x":-35,"y":82},{"x":-34,"y":85},{"x":-33,"y":88},{"x":-32,"y":90},{"x":-31,"y":92},{"x":-30,"y":95},{"x":-29,"y":98},{"x":-28,"y":100},{"x":-27,"y":185},{"x":-26,"y":104},{"x":-25,"y":108},{"x":-24,"y":112},{"x":-23,"y":115},{"x":-22,"y":118},{"x":-21,"y":125},{"x":-20,"y":130},{"x":-19,"y":135},{"x":-18,"y":140},{"x":-17,"y":148},{"x":-16,"y":155},{"x":-15,"y":165},{"x":-14,"y":170},{"x":-13,"y":175},{"x":-12,"y":180},{"x":-11,"y":170},{"x":-10,"y":160},{"x":-9,"y":140},{"x":-8,"y":130},{"x":-7,"y":115},{"x":-6,"y":105},{"x":-5,"y":100},{"x":-4,"y":110},{"x":-3,"y":0},{"x":0,"y":55},{"x":1,"y":50},{"x":2,"y":150},{"x":3,"y":95},{"x":4,"y":110},{"x":5,"y":120},{"x":6,"y":140},{"x":7,"y":155},{"x":8,"y":170},{"x":9,"y":180},{"x":10,"y":190},{"x":11,"y":185},{"x":12,"y":175},{"x":13,"y":165},{"x":14,"y":160},{"x":15,"y":150},{"x":16,"y":145},{"x":17,"y":140},{"x":18,"y":135},{"x":19,"y":130},{"x":20,"y":125},{"x":21,"y":220},{"x":22,"y":100},{"x":23,"y":120},{"x":24,"y":95},{"x":25,"y":110},{"x":26,"y":100},{"x":27,"y":105},{"x":28,"y":98},{"x":29,"y":100},{"x":30,"y":92},{"x":31,"y":90},{"x":32,"y":95},{"x":33,"y":88},{"x":34,"y":85},{"x":35,"y":82},{"x":36,"y":80},{"x":37,"y":78},{"x":38,"y":75},{"x":39,"y":72},{"x":40,"y":70},{"x":41,"y":68},{"x":42,"y":65},{"x":43,"y":100},{"x":44,"y":62},{"x":45,"y":60},{"x":46,"y":58},{"x":47,"y":55},{"x":48,"y":52},{"x":49,"y":50},{"x":50,"y":48},{"x":51,"y":45},{"x":52,"y":42},{"x":53,"y":40},{"x":54,"y":38},{"x":55,"y":55},{"x":56,"y":34},{"x":57,"y":30},{"x":58,"y":27},{"x":59,"y":22},{"x":60,"y":18}],
"b4p": [{"x":-60,"y":18},{"x":-59,"y":21},{"x":-58,"y":23},{"x":-57,"y":25},{"x":-56,"y":27},{"x":-55,"y":31},{"x":-54,"y":33},{"x":-53,"y":38},{"x":-52,"y":40},{"x":-51,"y":42},{"x":-50,"y":45},{"x":-49,"y":46},{"x":-48,"y":52},{"x":-47,"y":50},{"x":-46,"y":58},{"x":-45,"y":62},{"x":-44,"y":63},{"x":-43,"y":68},{"x":-42,"y":66},{"x":-41,"y":72},{"x":-40,"y":75},{"x":-39,"y":78},{"x":-38,"y":76},{"x":-37,"y":85},{"x":-36,"y":84},{"x":-35,"y":88},{"x":-34,"y":92},{"x":-33,"y":95},{"x":-32,"y":92},{"x":-31,"y":99},{"x":-30,"y":104},{"x":-29,"y":101},{"x":-28,"y":106},{"x":-27,"y":113},{"x":-26,"y":110},{"x":-25,"y":118},{"x":-24,"y":124},{"x":-23,"y":120},{"x":-22,"y":134},{"x":-21,"y":126},{"x":-20,"y":140},{"x":-19,"y":145},{"x":-18,"y":141},{"x":-17,"y":152},{"x":-16,"y":160},{"x":-15,"y":165},{"x":-14,"y":176},{"x":-13,"y":190},{"x":-12,"y":205},{"x":-11,"y":195},{"x":-10,"y":198},{"x":-9,"y":182},{"x":-8,"y":175},{"x":-7,"y":155},{"x":-6,"y":130},{"x":-5,"y":98},{"x":-4,"y":63},{"x":-3.5,"y":40},{"x":-3,"y":20},{"x":-2.5,"y":5},{"x":-2.2,"y":0},{"x":2.4,"y":0},{"x":2.7,"y":5},{"x":3,"y":25},{"x":3.5,"y":45},{"x":4,"y":69},{"x":5,"y":102},{"x":6,"y":135},{"x":7,"y":157},{"x":8,"y":175},{"x":9,"y":186},{"x":10,"y":192},{"x":11,"y":196},{"x":12,"y":188},{"x":13,"y":186},{"x":14,"y":180},{"x":15,"y":176},{"x":16,"y":172},{"x":17,"y":166},{"x":18,"y":160},{"x":19,"y":158},{"x":20,"y":150},{"x":21,"y":146},{"x":22,"y":142},{"x":23,"y":140},{"x":24,"y":134},{"x":25,"y":130},{"x":26,"y":128},{"x":27,"y":124},{"x":28,"y":118},{"x":29,"y":120},{"x":30,"y":113},{"x":31,"y":108},{"x":32,"y":110},{"x":33,"y":104},{"x":34,"y":98},{"x":35,"y":96},{"x":36,"y":94},{"x":37,"y":90},{"x":38,"y":85},{"x":39,"y":84},{"x":40,"y":80},{"x":41,"y":76},{"x":42,"y":74},{"x":43,"y":70},{"x":44,"y":66},{"x":45,"y":62},{"x":46,"y":60},{"x":47,"y":56},{"x":48,"y":53},{"x":49,"y":50},{"x":50,"y":48},{"x":51,"y":45},{"x":52,"y":42},{"x":53,"y":38},{"x":54,"y":36},{"x":55,"y":34},{"x":56,"y":30},{"x":57,"y":27},{"x":58,"y":25},{"x":59,"y":22},{"x":60,"y":19}],
"b4a": [{"x":-60,"y":20},{"x":-55,"y":34},{"x":-50,"y":48},{"x":-45,"y":63},{"x":-40,"y":76},{"x":-35,"y":89},{"x":-30,"y":102},{"x":-26,"y":113},{"x":-22,"y":124},{"x":-18,"y":140},{"x":-15,"y":156},{"x":-13,"y":172},{"x":-11,"y":184},{"x":-10,"y":185},{"x":-9,"y":182},{"x":-8,"y":173},{"x":-7,"y":155},{"x":-6,"y":130},{"x":-5,"y":98},{"x":-4,"y":63},{"x":-3.5,"y":40},{"x":-3,"y":20},{"x":-2.5,"y":5},{"x":-2.2,"y":0},{"x":2.4,"y":0},{"x":2.7,"y":5},{"x":3,"y":25},{"x":3.5,"y":45},{"x":4,"y":69},{"x":5,"y":100},{"x":6,"y":134},{"x":7,"y":155},{"x":8,"y":173},{"x":9,"y":185},{"x":10,"y":191},{"x":11,"y":192},{"x":12,"y":189},{"x":15,"y":178},{"x":18,"y":160},{"x":22,"y":140},{"x":26,"y":126},{"x":30,"y":113},{"x":35,"y":96},{"x":40,"y":80},{"x":45,"y":63},{"x":50,"y":48},{"x":55,"y":34},{"x":60,"y":20}]
},
"hconcat": [
{
"title": {"text": "noBH", "anchor": "middle", "dx": 15},
"spacing": 3,
"resolve": {"scale": {"color": "independent"}, "legend": {"color": "independent"}},
"vconcat": [
{"width": 320, "height": 73, "layer": [
{"data": {"name": "a1q"}, "mark": {"type": "rule", "color": "#777777", "strokeDash": [1.5, 1.5], "strokeWidth": 1}, "encoding": {"x": {"field": "x", "type": "quantitative", "scale": {"domain": [-60, 60], "nice": false}, "axis": {"values": [-60,-45,-30,-15,0,15,30,45,60], "labels": false, "title": null}}}},
{"data": {"name": "a1q"}, "mark": {"type": "text", "align": "left", "baseline": "middle", "dx": 2, "fontSize": 10, "color": "#222222"}, "encoding": {"x": {"field": "x", "type": "quantitative", "scale": {"domain": [-60, 60], "nice": false}}, "y": {"datum": 5.9, "type": "quantitative", "scale": {"domain": [0, 66], "nice": false}}, "text": {"field": "lab"}}},
{"data": {"name": "a1n"}, "mark": {"type": "line", "interpolate": "step-after", "strokeWidth": 1, "opacity": 0.85}, "encoding": {"x": {"field": "x", "type": "quantitative", "scale": {"domain": [-60, 60], "nice": false}}, "y": {"field": "y", "type": "quantitative", "scale": {"domain": [0, 66], "nice": false}, "axis": {"values": [0, 25, 50], "title": "ρ [M⊙/deg]"}}, "color": {"datum": "Nbody", "type": "nominal", "scale": {"domain": ["Nbody", "QSG-PS", "QSG-AN"], "range": ["#ff7f0e", "#2ca02c", "#1f77b4"]}, "legend": {"orient": "top-right", "offset": 4, "title": null, "encode": {"symbols": {"update": {"shape": {"signal": "datum.value === 'Nbody' ? 'M-1,-0.42H1V0.42H-1Z' : 'stroke'"}, "strokeDash": {"signal": "datum.value === 'QSG-AN' ? [4,2] : [1,0]"}}}}}}}},
{"data": {"name": "a1p"}, "mark": {"type": "line", "strokeWidth": 1.2}, "encoding": {"x": {"field": "x", "type": "quantitative", "scale": {"domain": [-60, 60], "nice": false}}, "y": {"field": "y", "type": "quantitative", "scale": {"domain": [0, 66], "nice": false}}, "color": {"datum": "QSG-PS", "type": "nominal", "scale": {"domain": ["Nbody", "QSG-PS", "QSG-AN"], "range": ["#ff7f0e", "#2ca02c", "#1f77b4"]}, "legend": {"orient": "top-right", "offset": 4, "title": null, "encode": {"symbols": {"update": {"shape": {"signal": "datum.value === 'Nbody' ? 'M-1,-0.42H1V0.42H-1Z' : 'stroke'"}, "strokeDash": {"signal": "datum.value === 'QSG-AN' ? [4,2] : [1,0]"}}}}}}}},
{"data": {"name": "a1a"}, "mark": {"type": "line", "strokeWidth": 1.3, "strokeDash": [4, 2.5]}, "encoding": {"x": {"field": "x", "type": "quantitative", "scale": {"domain": [-60, 60], "nice": false}}, "y": {"field": "y", "type": "quantitative", "scale": {"domain": [0, 66], "nice": false}}, "color": {"datum": "QSG-AN", "type": "nominal", "scale": {"domain": ["Nbody", "QSG-PS", "QSG-AN"], "range": ["#ff7f0e", "#2ca02c", "#1f77b4"]}, "legend": {"orient": "top-right", "offset": 4, "title": null, "encode": {"symbols": {"update": {"shape": {"signal": "datum.value === 'Nbody' ? 'M-1,-0.42H1V0.42H-1Z' : 'stroke'"}, "strokeDash": {"signal": "datum.value === 'QSG-AN' ? [4,2] : [1,0]"}}}}}}}},
{"data": {"values": [{}]}, "mark": {"type": "text", "text": "t − t", "align": "left", "baseline": "middle", "fontSize": 12, "fontStyle": "italic", "dx": 1}, "encoding": {"x": {"datum": -57, "type": "quantitative", "scale": {"domain": [-60, 60], "nice": false}}, "y": {"datum": 55.2, "type": "quantitative", "scale": {"domain": [0, 66], "nice": false}}}},
{"data": {"values": [{}]}, "mark": {"type": "text", "text": "d", "align": "left", "baseline": "middle", "fontSize": 8.5, "dx": 28.5, "dy": 3.5}, "encoding": {"x": {"datum": -57, "type": "quantitative", "scale": {"domain": [-60, 60], "nice": false}}, "y": {"datum": 55.2, "type": "quantitative", "scale": {"domain": [0, 66], "nice": false}}}},
{"data": {"values": [{}]}, "mark": {"type": "text", "text": "= 0.5 Gyr", "align": "left", "baseline": "middle", "fontSize": 12, "dx": 35.5}, "encoding": {"x": {"datum": -57, "type": "quantitative", "scale": {"domain": [-60, 60], "nice": false}}, "y": {"datum": 55.2, "type": "quantitative", "scale": {"domain": [0, 66], "nice": false}}}}
]},
{"width": 320, "height": 73, "layer": [
{"data": {"name": "a2q"}, "mark": {"type": "rule", "color": "#777777", "strokeDash": [1.5, 1.5], "strokeWidth": 1}, "encoding": {"x": {"field": "x", "type": "quantitative", "scale": {"domain": [-60, 60], "nice": false}, "axis": {"values": [-60,-45,-30,-15,0,15,30,45,60], "labels": false, "title": null}}}},
{"data": {"name": "a2q"}, "mark": {"type": "text", "align": "left", "baseline": "middle", "dx": 2, "fontSize": 10, "color": "#222222"}, "encoding": {"x": {"field": "x", "type": "quantitative", "scale": {"domain": [-60, 60], "nice": false}}, "y": {"datum": 5.3, "type": "quantitative", "scale": {"domain": [0, 59], "nice": false}}, "text": {"field": "lab"}}},
{"data": {"name": "a2n"}, "mark": {"type": "line", "interpolate": "step-after", "strokeWidth": 1, "opacity": 0.85}, "encoding": {"x": {"field": "x", "type": "quantitative", "scale": {"domain": [-60, 60], "nice": false}}, "y": {"field": "y", "type": "quantitative", "scale": {"domain": [0, 59], "nice": false}, "axis": {"values": [0, 20, 40], "title": "ρ [M⊙/deg]"}}, "color": {"datum": "Nbody", "type": "nominal", "scale": {"domain": ["Nbody", "QSG-PS", "QSG-AN"], "range": ["#ff7f0e", "#2ca02c", "#1f77b4"]}, "legend": null}}},
{"data": {"name": "a2p"}, "mark": {"type": "line", "strokeWidth": 1.2}, "encoding": {"x": {"field": "x", "type": "quantitative", "scale": {"domain": [-60, 60], "nice": false}}, "y": {"field": "y", "type": "quantitative", "scale": {"domain": [0, 59], "nice": false}}, "color": {"datum": "QSG-PS", "type": "nominal", "scale": {"domain": ["Nbody", "QSG-PS", "QSG-AN"], "range": ["#ff7f0e", "#2ca02c", "#1f77b4"]}, "legend": null}}},
{"data": {"name": "a2a"}, "mark": {"type": "line", "strokeWidth": 1.3, "strokeDash": [4, 2.5]}, "encoding": {"x": {"field": "x", "type": "quantitative", "scale": {"domain": [-60, 60], "nice": false}}, "y": {"field": "y", "type": "quantitative", "scale": {"domain": [0, 59], "nice": false}}, "color": {"datum": "QSG-AN", "type": "nominal", "scale": {"domain": ["Nbody", "QSG-PS", "QSG-AN"], "range": ["#ff7f0e", "#2ca02c", "#1f77b4"]}, "legend": null}}},
{"data": {"values": [{}]}, "mark": {"type": "text", "text": "t − t", "align": "left", "baseline": "middle", "fontSize": 12, "fontStyle": "italic", "dx": 1}, "encoding": {"x": {"datum": -57, "type": "quantitative", "scale": {"domain": [-60, 60], "nice": false}}, "y": {"datum": 49.3, "type": "quantitative", "scale": {"domain": [0, 59], "nice": false}}}},
{"data": {"values": [{}]}, "mark": {"type": "text", "text": "d", "align": "left", "baseline": "middle", "fontSize": 8.5, "dx": 28.5, "dy": 3.5}, "encoding": {"x": {"datum": -57, "type": "quantitative", "scale": {"domain": [-60, 60], "nice": false}}, "y": {"datum": 49.3, "type": "quantitative", "scale": {"domain": [0, 59], "nice": false}}}},
{"data": {"values": [{}]}, "mark": {"type": "text", "text": "= 1 Gyr", "align": "left", "baseline": "middle", "fontSize": 12, "dx": 35.5}, "encoding": {"x": {"datum": -57, "type": "quantitative", "scale": {"domain": [-60, 60], "nice": false}}, "y": {"datum": 49.3, "type": "quantitative", "scale": {"domain": [0, 59], "nice": false}}}}
]},
{"width": 320, "height": 73, "layer": [
{"data": {"name": "a3q"}, "mark": {"type": "rule", "color": "#777777", "strokeDash": [1.5, 1.5], "strokeWidth": 1}, "encoding": {"x": {"field": "x", "type": "quantitative", "scale": {"domain": [-60, 60], "nice": false}, "axis": {"values": [-60,-45,-30,-15,0,15,30,45,60], "labels": false, "title": null}}}},
{"data": {"name": "a3q"}, "mark": {"type": "text", "align": "left", "baseline": "middle", "dx": 2, "fontSize": 10, "color": "#222222"}, "encoding": {"x": {"field": "x", "type": "quantitative", "scale": {"domain": [-60, 60], "nice": false}}, "y": {"datum": 4.9, "type": "quantitative", "scale": {"domain": [0, 55], "nice": false}}, "text": {"field": "lab"}}},
{"data": {"name": "a3n"}, "mark": {"type": "line", "interpolate": "step-after", "strokeWidth": 1, "opacity": 0.85}, "encoding": {"x": {"field": "x", "type": "quantitative", "scale": {"domain": [-60, 60], "nice": false}}, "y": {"field": "y", "type": "quantitative", "scale": {"domain": [0, 55], "nice": false}, "axis": {"values": [0, 20, 40], "title": "ρ [M⊙/deg]"}}, "color": {"datum": "Nbody", "type": "nominal", "scale": {"domain": ["Nbody", "QSG-PS", "QSG-AN"], "range": ["#ff7f0e", "#2ca02c", "#1f77b4"]}, "legend": null}}},
{"data": {"name": "a3p"}, "mark": {"type": "line", "strokeWidth": 1.2}, "encoding": {"x": {"field": "x", "type": "quantitative", "scale": {"domain": [-60, 60], "nice": false}}, "y": {"field": "y", "type": "quantitative", "scale": {"domain": [0, 55], "nice": false}}, "color": {"datum": "QSG-PS", "type": "nominal", "scale": {"domain": ["Nbody", "QSG-PS", "QSG-AN"], "range": ["#ff7f0e", "#2ca02c", "#1f77b4"]}, "legend": null}}},
{"data": {"name": "a3a"}, "mark": {"type": "line", "strokeWidth": 1.3, "strokeDash": [4, 2.5]}, "encoding": {"x": {"field": "x", "type": "quantitative", "scale": {"domain": [-60, 60], "nice": false}}, "y": {"field": "y", "type": "quantitative", "scale": {"domain": [0, 55], "nice": false}}, "color": {"datum": "QSG-AN", "type": "nominal", "scale": {"domain": ["Nbody", "QSG-PS", "QSG-AN"], "range": ["#ff7f0e", "#2ca02c", "#1f77b4"]}, "legend": null}}},
{"data": {"values": [{}]}, "mark": {"type": "text", "text": "t − t", "align": "left", "baseline": "middle", "fontSize": 12, "fontStyle": "italic", "dx": 1}, "encoding": {"x": {"datum": -57, "type": "quantitative", "scale": {"domain": [-60, 60], "nice": false}}, "y": {"datum": 46, "type": "quantitative", "scale": {"domain": [0, 55], "nice": false}}}},
{"data": {"values": [{}]}, "mark": {"type": "text", "text": "d", "align": "left", "baseline": "middle", "fontSize": 8.5, "dx": 28.5, "dy": 3.5}, "encoding": {"x": {"datum": -57, "type": "quantitative", "scale": {"domain": [-60, 60], "nice": false}}, "y": {"datum": 46, "type": "quantitative", "scale": {"domain": [0, 55], "nice": false}}}},
{"data": {"values": [{}]}, "mark": {"type": "text", "text": "= 2 Gyr", "align": "left", "baseline": "middle", "fontSize": 12, "dx": 35.5}, "encoding": {"x": {"datum": -57, "type": "quantitative", "scale": {"domain": [-60, 60], "nice": false}}, "y": {"datum": 46, "type": "quantitative", "scale": {"domain": [0, 55], "nice": false}}}}
]},
{"width": 320, "height": 73, "layer": [
{"data": {"name": "a4q"}, "mark": {"type": "rule", "color": "#777777", "strokeDash": [1.5, 1.5], "strokeWidth": 1}, "encoding": {"x": {"field": "x", "type": "quantitative", "scale": {"domain": [-60, 60], "nice": false}, "axis": {"values": [-60,-45,-30,-15,0,15,30,45,60], "title": "ϕ₁ [deg]"}}}},
{"data": {"name": "a4q"}, "mark": {"type": "text", "align": "left", "baseline": "middle", "dx": 2, "fontSize": 10, "color": "#222222"}, "encoding": {"x": {"field": "x", "type": "quantitative", "scale": {"domain": [-60, 60], "nice": false}}, "y": {"datum": 4.6, "type": "quantitative", "scale": {"domain": [0, 52], "nice": false}}, "text": {"field": "lab"}}},
{"data": {"name": "a4n"}, "mark": {"type": "line", "interpolate": "step-after", "strokeWidth": 1, "opacity": 0.85}, "encoding": {"x": {"field": "x", "type": "quantitative", "scale": {"domain": [-60, 60], "nice": false}}, "y": {"field": "y", "type": "quantitative", "scale": {"domain": [0, 52], "nice": false}, "axis": {"values": [0, 20, 40], "title": "ρ [M⊙/deg]"}}, "color": {"datum": "Nbody", "type": "nominal", "scale": {"domain": ["Nbody", "QSG-PS", "QSG-AN"], "range": ["#ff7f0e", "#2ca02c", "#1f77b4"]}, "legend": null}}},
{"data": {"name": "a4p"}, "mark": {"type": "line", "strokeWidth": 1.2}, "encoding": {"x": {"field": "x", "type": "quantitative", "scale": {"domain": [-60, 60], "nice": false}}, "y": {"field": "y", "type": "quantitative", "scale": {"domain": [0, 52], "nice": false}}, "color": {"datum": "QSG-PS", "type": "nominal", "scale": {"domain": ["Nbody", "QSG-PS", "QSG-AN"], "range": ["#ff7f0e", "#2ca02c", "#1f77b4"]}, "legend": null}}},
{"data": {"name": "a4a"}, "mark": {"type": "line", "strokeWidth": 1.3, "strokeDash": [4, 2.5]}, "encoding": {"x": {"field": "x", "type": "quantitative", "scale": {"domain": [-60, 60], "nice": false}}, "y": {"field": "y", "type": "quantitative", "scale": {"domain": [0, 52], "nice": false}}, "color": {"datum": "QSG-AN", "type": "nominal", "scale": {"domain": ["Nbody", "QSG-PS", "QSG-AN"], "range": ["#ff7f0e", "#2ca02c", "#1f77b4"]}, "legend": null}}},
{"data": {"values": [{}]}, "mark": {"type": "text", "text": "t − t", "align": "left", "baseline": "middle", "fontSize": 12, "fontStyle": "italic", "dx": 1}, "encoding": {"x": {"datum": -57, "type": "quantitative", "scale": {"domain": [-60, 60], "nice": false}}, "y": {"datum": 43.5, "type": "quantitative", "scale": {"domain": [0, 52], "nice": false}}}},
{"data": {"values": [{}]}, "mark": {"type": "text", "text": "d", "align": "left", "baseline": "middle", "fontSize": 8.5, "dx": 28.5, "dy": 3.5}, "encoding": {"x": {"datum": -57, "type": "quantitative", "scale": {"domain": [-60, 60], "nice": false}}, "y": {"datum": 43.5, "type": "quantitative", "scale": {"domain": [0, 52], "nice": false}}}},
{"data": {"values": [{}]}, "mark": {"type": "text", "text": "= 4 Gyr", "align": "left", "baseline": "middle", "fontSize": 12, "dx": 35.5}, "encoding": {"x": {"datum": -57, "type": "quantitative", "scale": {"domain": [-60, 60], "nice": false}}, "y": {"datum": 43.5, "type": "quantitative", "scale": {"domain": [0, 52], "nice": false}}}}
]}
]
},
{
"title": {"text": "wBH", "anchor": "middle", "dx": 18},
"spacing": 3,
"resolve": {"scale": {"color": "independent"}, "legend": {"color": "independent"}},
"vconcat": [
{"width": 322, "height": 73, "layer": [
{"data": {"name": "b1q"}, "mark": {"type": "rule", "color": "#777777", "strokeDash": [1.5, 1.5], "strokeWidth": 1}, "encoding": {"x": {"field": "x", "type": "quantitative", "scale": {"domain": [-60, 60], "nice": false}, "axis": {"values": [-60,-45,-30,-15,0,15,30,45,60], "labels": false, "title": null}}}},
{"data": {"name": "b1q"}, "mark": {"type": "text", "align": "left", "baseline": "middle", "dx": 2, "fontSize": 10, "color": "#222222"}, "encoding": {"x": {"field": "x", "type": "quantitative", "scale": {"domain": [-60, 60], "nice": false}}, "y": {"datum": 82, "type": "quantitative", "scale": {"domain": [0, 920], "nice": false}}, "text": {"field": "lab"}}},
{"data": {"name": "b1n"}, "mark": {"type": "line", "interpolate": "step-after", "strokeWidth": 1, "opacity": 0.85}, "encoding": {"x": {"field": "x", "type": "quantitative", "scale": {"domain": [-60, 60], "nice": false}}, "y": {"field": "y", "type": "quantitative", "scale": {"domain": [0, 920], "nice": false}, "axis": {"values": [0, 500], "title": "ρ [M⊙/deg]"}}, "color": {"datum": "Nbody", "type": "nominal", "scale": {"domain": ["Nbody", "QSG-PS", "QSG-AN"], "range": ["#ff7f0e", "#2ca02c", "#1f77b4"]}, "legend": {"orient": "top-right", "offset": 4, "title": null, "encode": {"symbols": {"update": {"shape": {"signal": "datum.value === 'Nbody' ? 'M-1,-0.42H1V0.42H-1Z' : 'stroke'"}, "strokeDash": {"signal": "datum.value === 'QSG-AN' ? [4,2] : [1,0]"}}}}}}}},
{"data": {"name": "b1p"}, "mark": {"type": "line", "strokeWidth": 1.2}, "encoding": {"x": {"field": "x", "type": "quantitative", "scale": {"domain": [-60, 60], "nice": false}}, "y": {"field": "y", "type": "quantitative", "scale": {"domain": [0, 920], "nice": false}}, "color": {"datum": "QSG-PS", "type": "nominal", "scale": {"domain": ["Nbody", "QSG-PS", "QSG-AN"], "range": ["#ff7f0e", "#2ca02c", "#1f77b4"]}, "legend": {"orient": "top-right", "offset": 4, "title": null, "encode": {"symbols": {"update": {"shape": {"signal": "datum.value === 'Nbody' ? 'M-1,-0.42H1V0.42H-1Z' : 'stroke'"}, "strokeDash": {"signal": "datum.value === 'QSG-AN' ? [4,2] : [1,0]"}}}}}}}},
{"data": {"name": "b1a"}, "mark": {"type": "line", "strokeWidth": 1.3, "strokeDash": [4, 2.5]}, "encoding": {"x": {"field": "x", "type": "quantitative", "scale": {"domain": [-60, 60], "nice": false}}, "y": {"field": "y", "type": "quantitative", "scale": {"domain": [0, 920], "nice": false}}, "color": {"datum": "QSG-AN", "type": "nominal", "scale": {"domain": ["Nbody", "QSG-PS", "QSG-AN"], "range": ["#ff7f0e", "#2ca02c", "#1f77b4"]}, "legend": {"orient": "top-right", "offset": 4, "title": null, "encode": {"symbols": {"update": {"shape": {"signal": "datum.value === 'Nbody' ? 'M-1,-0.42H1V0.42H-1Z' : 'stroke'"}, "strokeDash": {"signal": "datum.value === 'QSG-AN' ? [4,2] : [1,0]"}}}}}}}},
{"data": {"values": [{}]}, "mark": {"type": "text", "text": "t − t", "align": "left", "baseline": "middle", "fontSize": 12, "fontStyle": "italic", "dx": 1}, "encoding": {"x": {"datum": -57, "type": "quantitative", "scale": {"domain": [-60, 60], "nice": false}}, "y": {"datum": 769, "type": "quantitative", "scale": {"domain": [0, 920], "nice": false}}}},
{"data": {"values": [{}]}, "mark": {"type": "text", "text": "d", "align": "left", "baseline": "middle", "fontSize": 8.5, "dx": 28.5, "dy": 3.5}, "encoding": {"x": {"datum": -57, "type": "quantitative", "scale": {"domain": [-60, 60], "nice": false}}, "y": {"datum": 769, "type": "quantitative", "scale": {"domain": [0, 920], "nice": false}}}},
{"data": {"values": [{}]}, "mark": {"type": "text", "text": "= 0.5 Gyr", "align": "left", "baseline": "middle", "fontSize": 12, "dx": 35.5}, "encoding": {"x": {"datum": -57, "type": "quantitative", "scale": {"domain": [-60, 60], "nice": false}}, "y": {"datum": 769, "type": "quantitative", "scale": {"domain": [0, 920], "nice": false}}}}
]},
{"width": 322, "height": 73, "layer": [
{"data": {"name": "b2q"}, "mark": {"type": "rule", "color": "#777777", "strokeDash": [1.5, 1.5], "strokeWidth": 1}, "encoding": {"x": {"field": "x", "type": "quantitative", "scale": {"domain": [-60, 60], "nice": false}, "axis": {"values": [-60,-45,-30,-15,0,15,30,45,60], "labels": false, "title": null}}}},
{"data": {"name": "b2q"}, "mark": {"type": "text", "align": "left", "baseline": "middle", "dx": 2, "fontSize": 10, "color": "#222222"}, "encoding": {"x": {"field": "x", "type": "quantitative", "scale": {"domain": [-60, 60], "nice": false}}, "y": {"datum": 45, "type": "quantitative", "scale": {"domain": [0, 503], "nice": false}}, "text": {"field": "lab"}}},
{"data": {"name": "b2n"}, "mark": {"type": "line", "interpolate": "step-after", "strokeWidth": 1, "opacity": 0.85}, "encoding": {"x": {"field": "x", "type": "quantitative", "scale": {"domain": [-60, 60], "nice": false}}, "y": {"field": "y", "type": "quantitative", "scale": {"domain": [0, 503], "nice": false}, "axis": {"values": [0, 200, 400], "title": "ρ [M⊙/deg]"}}, "color": {"datum": "Nbody", "type": "nominal", "scale": {"domain": ["Nbody", "QSG-PS", "QSG-AN"], "range": ["#ff7f0e", "#2ca02c", "#1f77b4"]}, "legend": null}}},
{"data": {"name": "b2p"}, "mark": {"type": "line", "strokeWidth": 1.2}, "encoding": {"x": {"field": "x", "type": "quantitative", "scale": {"domain": [-60, 60], "nice": false}}, "y": {"field": "y", "type": "quantitative", "scale": {"domain": [0, 503], "nice": false}}, "color": {"datum": "QSG-PS", "type": "nominal", "scale": {"domain": ["Nbody", "QSG-PS", "QSG-AN"], "range": ["#ff7f0e", "#2ca02c", "#1f77b4"]}, "legend": null}}},
{"data": {"name": "b2a"}, "mark": {"type": "line", "strokeWidth": 1.3, "strokeDash": [4, 2.5]}, "encoding": {"x": {"field": "x", "type": "quantitative", "scale": {"domain": [-60, 60], "nice": false}}, "y": {"field": "y", "type": "quantitative", "scale": {"domain": [0, 503], "nice": false}}, "color": {"datum": "QSG-AN", "type": "nominal", "scale": {"domain": ["Nbody", "QSG-PS", "QSG-AN"], "range": ["#ff7f0e", "#2ca02c", "#1f77b4"]}, "legend": null}}},
{"data": {"values": [{}]}, "mark": {"type": "text", "text": "t − t", "align": "left", "baseline": "middle", "fontSize": 12, "fontStyle": "italic", "dx": 1}, "encoding": {"x": {"datum": -57, "type": "quantitative", "scale": {"domain": [-60, 60], "nice": false}}, "y": {"datum": 420, "type": "quantitative", "scale": {"domain": [0, 503], "nice": false}}}},
{"data": {"values": [{}]}, "mark": {"type": "text", "text": "d", "align": "left", "baseline": "middle", "fontSize": 8.5, "dx": 28.5, "dy": 3.5}, "encoding": {"x": {"datum": -57, "type": "quantitative", "scale": {"domain": [-60, 60], "nice": false}}, "y": {"datum": 420, "type": "quantitative", "scale": {"domain": [0, 503], "nice": false}}}},
{"data": {"values": [{}]}, "mark": {"type": "text", "text": "= 1 Gyr", "align": "left", "baseline": "middle", "fontSize": 12, "dx": 35.5}, "encoding": {"x": {"datum": -57, "type": "quantitative", "scale": {"domain": [-60, 60], "nice": false}}, "y": {"datum": 420, "type": "quantitative", "scale": {"domain": [0, 503], "nice": false}}}}
]},
{"width": 322, "height": 73, "layer": [
{"data": {"name": "b3q"}, "mark": {"type": "rule", "color": "#777777", "strokeDash": [1.5, 1.5], "strokeWidth": 1}, "encoding": {"x": {"field": "x", "type": "quantitative", "scale": {"domain": [-60, 60], "nice": false}, "axis": {"values": [-60,-45,-30,-15,0,15,30,45,60], "labels": false, "title": null}}}},
{"data": {"name": "b3q"}, "mark": {"type": "text", "align": "left", "baseline": "middle", "dx": 2, "fontSize": 10, "color": "#222222"}, "encoding": {"x": {"field": "x", "type": "quantitative", "scale": {"domain": [-60, 60], "nice": false}}, "y": {"datum": 30, "type": "quantitative", "scale": {"domain": [0, 340], "nice": false}}, "text": {"field": "lab"}}},
{"data": {"name": "b3n"}, "mark": {"type": "line", "interpolate": "step-after", "strokeWidth": 1, "opacity": 0.85}, "encoding": {"x": {"field": "x", "type": "quantitative", "scale": {"domain": [-60, 60], "nice": false}}, "y": {"field": "y", "type": "quantitative", "scale": {"domain": [0, 340], "nice": false}, "axis": {"values": [0, 200], "title": "ρ [M⊙/deg]"}}, "color": {"datum": "Nbody", "type": "nominal", "scale": {"domain": ["Nbody", "QSG-PS", "QSG-AN"], "range": ["#ff7f0e", "#2ca02c", "#1f77b4"]}, "legend": null}}},
{"data": {"name": "b3p"}, "mark": {"type": "line", "strokeWidth": 1.2}, "encoding": {"x": {"field": "x", "type": "quantitative", "scale": {"domain": [-60, 60], "nice": false}}, "y": {"field": "y", "type": "quantitative", "scale": {"domain": [0, 340], "nice": false}}, "color": {"datum": "QSG-PS", "type": "nominal", "scale": {"domain": ["Nbody", "QSG-PS", "QSG-AN"], "range": ["#ff7f0e", "#2ca02c", "#1f77b4"]}, "legend": null}}},
{"data": {"name": "b3a"}, "mark": {"type": "line", "strokeWidth": 1.3, "strokeDash": [4, 2.5]}, "encoding": {"x": {"field": "x", "type": "quantitative", "scale": {"domain": [-60, 60], "nice": false}}, "y": {"field": "y", "type": "quantitative", "scale": {"domain": [0, 340], "nice": false}}, "color": {"datum": "QSG-AN", "type": "nominal", "scale": {"domain": ["Nbody", "QSG-PS", "QSG-AN"], "range": ["#ff7f0e", "#2ca02c", "#1f77b4"]}, "legend": null}}},
{"data": {"values": [{}]}, "mark": {"type": "text", "text": "t − t", "align": "left", "baseline": "middle", "fontSize": 12, "fontStyle": "italic", "dx": 1}, "encoding": {"x": {"datum": -57, "type": "quantitative", "scale": {"domain": [-60, 60], "nice": false}}, "y": {"datum": 284, "type": "quantitative", "scale": {"domain": [0, 340], "nice": false}}}},
{"data": {"values": [{}]}, "mark": {"type": "text", "text": "d", "align": "left", "baseline": "middle", "fontSize": 8.5, "dx": 28.5, "dy": 3.5}, "encoding": {"x": {"datum": -57, "type": "quantitative", "scale": {"domain": [-60, 60], "nice": false}}, "y": {"datum": 284, "type": "quantitative", "scale": {"domain": [0, 340], "nice": false}}}},
{"data": {"values": [{}]}, "mark": {"type": "text", "text": "= 2 Gyr", "align": "left", "baseline": "middle", "fontSize": 12, "dx": 35.5}, "encoding": {"x": {"datum": -57, "type": "quantitative", "scale": {"domain": [-60, 60], "nice": false}}, "y": {"datum": 284, "type": "quantitative", "scale": {"domain": [0, 340], "nice": false}}}}
]},
{"width": 322, "height": 73, "layer": [
{"data": {"name": "b4q"}, "mark": {"type": "rule", "color": "#777777", "strokeDash": [1.5, 1.5], "strokeWidth": 1}, "encoding": {"x": {"field": "x", "type": "quantitative", "scale": {"domain": [-60, 60], "nice": false}, "axis": {"values": [-60,-45,-30,-15,0,15,30,45,60], "title": "ϕ₁ [deg]"}}}},
{"data": {"name": "b4q"}, "mark": {"type": "text", "align": "left", "baseline": "middle", "dx": 2, "fontSize": 10, "color": "#222222"}, "encoding": {"x": {"field": "x", "type": "quantitative", "scale": {"domain": [-60, 60], "nice": false}}, "y": {"datum": 21, "type": "quantitative", "scale": {"domain": [0, 240], "nice": false}}, "text": {"field": "lab"}}},
{"data": {"name": "b4n"}, "mark": {"type": "line", "interpolate": "step-after", "strokeWidth": 1, "opacity": 0.85}, "encoding": {"x": {"field": "x", "type": "quantitative", "scale": {"domain": [-60, 60], "nice": false}}, "y": {"field": "y", "type": "quantitative", "scale": {"domain": [0, 240], "nice": false}, "axis": {"values": [0, 100, 200], "title": "ρ [M⊙/deg]"}}, "color": {"datum": "Nbody", "type": "nominal", "scale": {"domain": ["Nbody", "QSG-PS", "QSG-AN"], "range": ["#ff7f0e", "#2ca02c", "#1f77b4"]}, "legend": null}}},
{"data": {"name": "b4p"}, "mark": {"type": "line", "strokeWidth": 1.2}, "encoding": {"x": {"field": "x", "type": "quantitative", "scale": {"domain": [-60, 60], "nice": false}}, "y": {"field": "y", "type": "quantitative", "scale": {"domain": [0, 240], "nice": false}}, "color": {"datum": "QSG-PS", "type": "nominal", "scale": {"domain": ["Nbody", "QSG-PS", "QSG-AN"], "range": ["#ff7f0e", "#2ca02c", "#1f77b4"]}, "legend": null}}},
{"data": {"name": "b4a"}, "mark": {"type": "line", "strokeWidth": 1.3, "strokeDash": [4, 2.5]}, "encoding": {"x": {"field": "x", "type": "quantitative", "scale": {"domain": [-60, 60], "nice": false}}, "y": {"field": "y", "type": "quantitative", "scale": {"domain": [0, 240], "nice": false}}, "color": {"datum": "QSG-AN", "type": "nominal", "scale": {"domain": ["Nbody", "QSG-PS", "QSG-AN"], "range": ["#ff7f0e", "#2ca02c", "#1f77b4"]}, "legend": null}}},
{"data": {"values": [{}]}, "mark": {"type": "text", "text": "t − t", "align": "left", "baseline": "middle", "fontSize": 12, "fontStyle": "italic", "dx": 1}, "encoding": {"x": {"datum": -57, "type": "quantitative", "scale": {"domain": [-60, 60], "nice": false}}, "y": {"datum": 200.6, "type": "quantitative", "scale": {"domain": [0, 240], "nice": false}}}},
{"data": {"values": [{}]}, "mark": {"type": "text", "text": "d", "align": "left", "baseline": "middle", "fontSize": 8.5, "dx": 28.5, "dy": 3.5}, "encoding": {"x": {"datum": -57, "type": "quantitative", "scale": {"domain": [-60, 60], "nice": false}}, "y": {"datum": 200.6, "type": "quantitative", "scale": {"domain": [0, 240], "nice": false}}}},
{"data": {"values": [{}]}, "mark": {"type": "text", "text": "= 4 Gyr", "align": "left", "baseline": "middle", "fontSize": 12, "dx": 35.5}, "encoding": {"x": {"datum": -57, "type": "quantitative", "scale": {"domain": [-60, 60], "nice": false}}, "y": {"datum": 200.6, "type": "quantitative", "scale": {"domain": [0, 240], "nice": false}}}}
]}
]
}
],
"spacing": 7,
"resolve": {"scale": {"color": "independent"}, "legend": {"color": "independent"}},
"config": {
"font": "DejaVu Sans",
"view": {"stroke": "#888888", "strokeWidth": 1},
"axis": {"domain": false, "grid": false, "tickColor": "#444444", "tickSize": 3.5, "tickWidth": 1, "labelFontSize": 11.5, "labelColor": "#000000", "labelPadding": 2, "titleFontWeight": "normal", "titleColor": "#000000", "labelFont": "DejaVu Sans", "titleFont": "DejaVu Sans"},
"axisX": {"titleFontSize": 13.5, "titlePadding": 1, "labelPadding": 1, "labelFlush": false, "labelOverlap": false},
"axisY": {"titleFontSize": 10.5, "titlePadding": 3, "labelOverlap": false},
"title": {"fontSize": 13.5, "fontWeight": "normal", "font": "DejaVu Sans", "offset": 3, "color": "#000000"},
"legend": {"symbolType": "stroke", "symbolSize": 500, "symbolStrokeWidth": 1.5, "labelFontSize": 11.5, "labelFont": "DejaVu Sans", "labelColor": "#000000", "padding": 5, "rowPadding": 3, "strokeColor": "#cccccc", "fillColor": "rgba(255,255,255,0.8)", "cornerRadius": 3, "labelOffset": 8}
}
}
